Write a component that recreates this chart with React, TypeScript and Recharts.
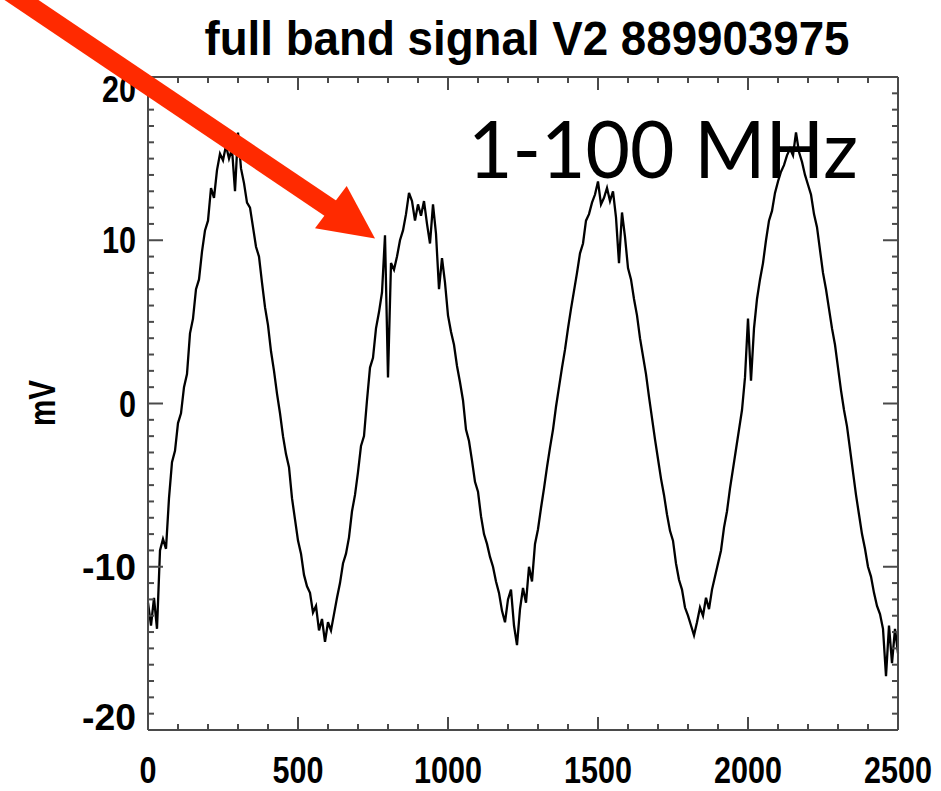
import { LineChart, Line, XAxis, YAxis } from 'recharts';

// sample time (x) and signal in mV
const TIME = [
  0, 10, 20, 30, 40, 50, 60, 70, 80, 90,
  100, 110, 120, 130, 140, 150, 160, 170, 180, 190,
  200, 210, 220, 230, 240, 250, 260, 270, 280, 290,
  300, 310, 320, 330, 340, 350, 360, 370, 380, 390,
  400, 410, 420, 430, 440, 450, 460, 470, 480, 490,
  500, 510, 520, 530, 540, 550, 560, 570, 580, 590,
  600, 610, 620, 630, 640, 650, 660, 670, 680, 690,
  700, 710, 720, 730, 740, 750, 760, 770, 780, 790,
  800, 810, 820, 830, 840, 850, 860, 870, 880, 890,
  900, 910, 920, 930, 940, 950, 960, 970, 980, 990,
  1000, 1010, 1020, 1030, 1040, 1050, 1060, 1070, 1080, 1090,
  1100, 1110, 1120, 1130, 1140, 1150, 1160, 1170, 1180, 1190,
  1200, 1210, 1220, 1230, 1240, 1250, 1260, 1270, 1280, 1290,
  1300, 1310, 1320, 1330, 1340, 1350, 1360, 1370, 1380, 1390,
  1400, 1410, 1420, 1430, 1440, 1450, 1460, 1470, 1480, 1490,
  1500, 1510, 1520, 1530, 1540, 1550, 1560, 1570, 1580, 1590,
  1600, 1610, 1620, 1630, 1640, 1650, 1660, 1670, 1680, 1690,
  1700, 1710, 1720, 1730, 1740, 1750, 1760, 1770, 1780, 1790,
  1800, 1810, 1820, 1830, 1840, 1850, 1860, 1870, 1880, 1890,
  1900, 1910, 1920, 1930, 1940, 1950, 1960, 1970, 1980, 1990,
  2000, 2010, 2020, 2030, 2040, 2050, 2060, 2070, 2080, 2090,
  2100, 2110, 2120, 2130, 2140, 2150, 2160, 2170, 2180, 2190,
  2200, 2210, 2220, 2230, 2240, 2250, 2260, 2270, 2280, 2290,
  2300, 2310, 2320, 2330, 2340, 2350, 2360, 2370, 2380, 2390,
  2400, 2410, 2420, 2430, 2440, 2450, 2460, 2470, 2480, 2490,
  2500,
];

const MV = [
  -12.2, -13.6, -11.9, -13.8, -9.0, -8.3, -8.9, -5.8, -3.6, -2.9,
  -1.2, -0.6, 1.0, 1.8, 4.3, 5.2, 7.0, 7.6, 9.3, 10.6,
  11.2, 13.2, 12.6, 14.3, 15.3, 14.9, 15.8, 15.0, 15.6, 13.0,
  16.6, 14.4, 13.5, 12.3, 12.0, 10.8, 9.6, 9.0, 7.4, 5.9,
  4.8, 3.2, 2.0, 0.6, -0.6, -2.0, -3.1, -3.9, -5.8, -7.1,
  -8.4, -9.2, -10.5, -11.2, -11.6, -12.8, -12.4, -13.9, -13.2, -14.6,
  -13.4, -13.9, -12.9, -11.9, -11.0, -9.8, -9.2, -8.2, -6.6, -5.6,
  -4.2, -2.6, -2.0, 0.2, 2.2, 2.8, 4.6, 5.6, 6.8, 10.3,
  1.6, 8.6, 8.2, 9.0, 10.0, 10.6, 11.6, 12.9, 12.4, 11.2,
  12.2, 11.5, 12.4, 11.0, 9.8, 12.2, 10.4, 7.0, 8.9, 7.4,
  5.4, 4.4, 3.6, 2.3, 1.3, 0.2, -1.6, -2.3, -3.5, -4.8,
  -5.4, -6.9, -8.0, -8.6, -9.4, -10.0, -10.9, -11.6, -12.7, -13.4,
  -12.0, -11.4, -13.6, -14.8, -12.6, -11.3, -12.2, -10.0, -10.9, -8.6,
  -7.7, -6.4, -5.2, -3.9, -2.7, -1.6, -0.2, 1.0, 2.2, 3.3,
  4.6, 5.8, 6.9, 8.0, 9.2, 9.8, 11.2, 11.6, 12.3, 12.8,
  13.6, 12.2, 12.6, 13.2, 12.4, 13.0, 11.4, 8.6, 11.7, 10.2,
  8.3, 7.6, 6.4, 5.4, 4.0, 2.9, 1.8, 0.4, -0.9, -2.2,
  -3.4, -4.6, -5.6, -6.8, -7.8, -8.4, -9.8, -10.8, -11.4, -12.5,
  -13.0, -13.6, -14.2, -13.4, -12.5, -13.0, -11.9, -12.6, -11.4, -10.6,
  -9.8, -9.0, -7.6, -6.6, -5.2, -4.0, -2.8, -1.6, -0.4, 1.6,
  5.2, 1.4, 4.6, 6.4, 7.6, 8.6, 10.0, 11.2, 11.8, 12.9,
  13.6, 14.2, 14.6, 15.2, 15.6, 15.2, 16.6, 15.4, 14.8, 14.0,
  13.4, 12.8, 11.6, 10.8, 9.4, 8.0, 7.0, 5.8, 4.6, 3.6,
  2.2, 0.8, -0.4, -1.4, -2.8, -4.2, -5.6, -6.8, -8.0, -8.9,
  -10.0, -10.6, -11.6, -12.4, -12.9, -13.8, -16.7, -13.6, -15.9, -13.8,
  -15.3,
];

const X_MAJOR = [0, 500, 1000, 1500, 2000, 2500];
const X_TICKS = [
  0, 100, 200, 300, 400, 500, 600, 700, 800, 900, 1000, 1100, 1200,
  1300, 1400, 1500, 1600, 1700, 1800, 1900, 2000, 2100, 2200, 2300, 2400, 2500,
];
const Y_MAJOR = [-20, -10, 0, 10, 20];
const Y_TICKS = [
  -20, -19, -18, -17, -16, -15, -14, -13, -12, -11, -10, -9, -8, -7, -6, -5, -4, -3, -2, -1,
  0, 1, 2, 3, 4, 5, 6, 7, 8, 9, 10, 11, 12, 13, 14, 15, 16, 17, 18, 19, 20,
];

const TITLE = 'full band signal V2 889903975';
const Y_LABEL = 'mV';
const NOTE = '1-100 MHz';

const W = 941;
const H = 791;
const AXIS = '#4a4a4a';
const RED = '#ff2a00';
const FONT = "'Liberation Sans', Arial, Helvetica, sans-serif";

const data = TIME.map((t, i) => ({ t, mv: MV[i] }));

const labelWidth = (s: string) => {
  let w = 0;
  for (const c of s) w += c === '-' ? 20 : 17;
  return w;
};

// axes are 1px thick bands; the tick x/y handed in is the edge of the plot box
function BottomTick(props: any) {
  const { x, y, payload } = props;
  const v = payload.value;
  const major = X_MAJOR.includes(v);
  const s = String(v);
  const w = labelWidth(s);
  // the last label sits near the page edge, so pin its right end instead of its centre
  const last = v === X_MAJOR[X_MAJOR.length - 1];
  return (
    <g>
      <line x1={x} x2={x} y1={y} y2={y - (major ? 13 : 6)} stroke={AXIS} strokeWidth={2} />
      {major && (
        <text
          x={last ? x + w / 2 : x}
          y={y + 53}
          textAnchor={last ? 'end' : 'middle'}
          fontFamily={FONT}
          fontWeight="bold"
          fontSize={36}
          fill="#000"
          textLength={w}
          lengthAdjust="spacingAndGlyphs"
        >
          {s}
        </text>
      )}
    </g>
  );
}

function TopTick(props: any) {
  const { x, y, payload } = props;
  const major = X_MAJOR.includes(payload.value);
  return <line x1={x} x2={x} y1={y} y2={y + (major ? 13 : 6)} stroke={AXIS} strokeWidth={2} />;
}

function LeftTick(props: any) {
  const { x, y, payload } = props;
  const v = payload.value;
  const major = Y_MAJOR.includes(v);
  const s = String(v);
  // IDL nudges the end labels inside the box
  const shift = v === 20 ? 12 : v === -20 ? -13 : 0;
  return (
    <g>
      <line x1={x} x2={x + (major ? 15 : 6)} y1={y} y2={y} stroke={AXIS} strokeWidth={2} />
      {major && (
        <text
          x={x - 12}
          y={y + shift + 13}
          textAnchor="end"
          fontFamily={FONT}
          fontWeight="bold"
          fontSize={37}
          fill="#000"
          textLength={labelWidth(s)}
          lengthAdjust="spacingAndGlyphs"
        >
          {s}
        </text>
      )}
    </g>
  );
}

function RightTick(props: any) {
  const { x, y, payload } = props;
  const major = Y_MAJOR.includes(payload.value);
  return <line x1={x} x2={x - (major ? 15 : 6)} y1={y} y2={y} stroke={AXIS} strokeWidth={2} />;
}

export default function App() {
  const axisLine = { stroke: AXIS, strokeWidth: 2 };
  return (
    <div style={{ position: 'absolute', left: 0, top: 0, width: W, height: H, background: '#fff' }}>
      <LineChart
        width={W}
        height={H}
        data={data}
        margin={{ top: 76, right: 42, bottom: 60, left: 147 }}
      >
        <XAxis
          xAxisId="b"
          dataKey="t"
          type="number"
          domain={[0, 2500]}
          ticks={X_TICKS}
          interval={0}
          height={1}
          tickSize={0}
          tickMargin={0}
          tickLine={false}
          axisLine={axisLine}
          tick={<BottomTick />}
        />
        <XAxis
          xAxisId="t"
          orientation="top"
          dataKey="t"
          type="number"
          domain={[0, 2500]}
          ticks={X_TICKS}
          interval={0}
          height={1}
          tickSize={0}
          tickMargin={0}
          tickLine={false}
          axisLine={axisLine}
          tick={<TopTick />}
        />
        <YAxis
          yAxisId="l"
          type="number"
          domain={[-20, 20]}
          ticks={Y_TICKS}
          interval={0}
          width={1}
          tickSize={0}
          tickMargin={0}
          tickLine={false}
          axisLine={axisLine}
          allowDataOverflow
          tick={<LeftTick />}
        />
        <YAxis
          yAxisId="r"
          orientation="right"
          type="number"
          domain={[-20, 20]}
          ticks={Y_TICKS}
          interval={0}
          width={1}
          tickSize={0}
          tickMargin={0}
          tickLine={false}
          axisLine={axisLine}
          allowDataOverflow
          tick={<RightTick />}
        />
        <Line
          xAxisId="b"
          yAxisId="l"
          type="linear"
          dataKey="mv"
          stroke="#000"
          strokeWidth={2.3}
          dot={false}
          activeDot={false}
          isAnimationActive={false}
        />
      </LineChart>

      {/* title, labels and the red arrow laid over the plot */}
      <svg
        width={W}
        height={H}
        style={{ position: 'absolute', left: 0, top: 0, pointerEvents: 'none' }}
      >
        <text
          x={527}
          y={55}
          textAnchor="middle"
          fontFamily={FONT}
          fontWeight="bold"
          fontSize={48}
          fill="#000"
          textLength={645}
          lengthAdjust="spacingAndGlyphs"
        >
          {TITLE}
        </text>
        <text
          x={55}
          y={403}
          transform="rotate(-90 55 403)"
          textAnchor="middle"
          fontFamily={FONT}
          fontWeight="bold"
          fontSize={37}
          fill="#000"
          textLength={46}
          lengthAdjust="spacingAndGlyphs"
        >
          {Y_LABEL}
        </text>
        <text
          x={468}
          y={178}
          fontFamily="Lato, 'Open Sans', sans-serif"
          fontSize={80}
          fill="#000"
          textLength={390}
          lengthAdjust="spacingAndGlyphs"
        >
          {NOTE}
        </text>
        <line x1={0} y1={-14.5} x2={336} y2={212} stroke={RED} strokeWidth={19} />
        <polygon points="375,238.5 346.7,186 315,228.3" fill={RED} />
      </svg>
    </div>
  );
}
